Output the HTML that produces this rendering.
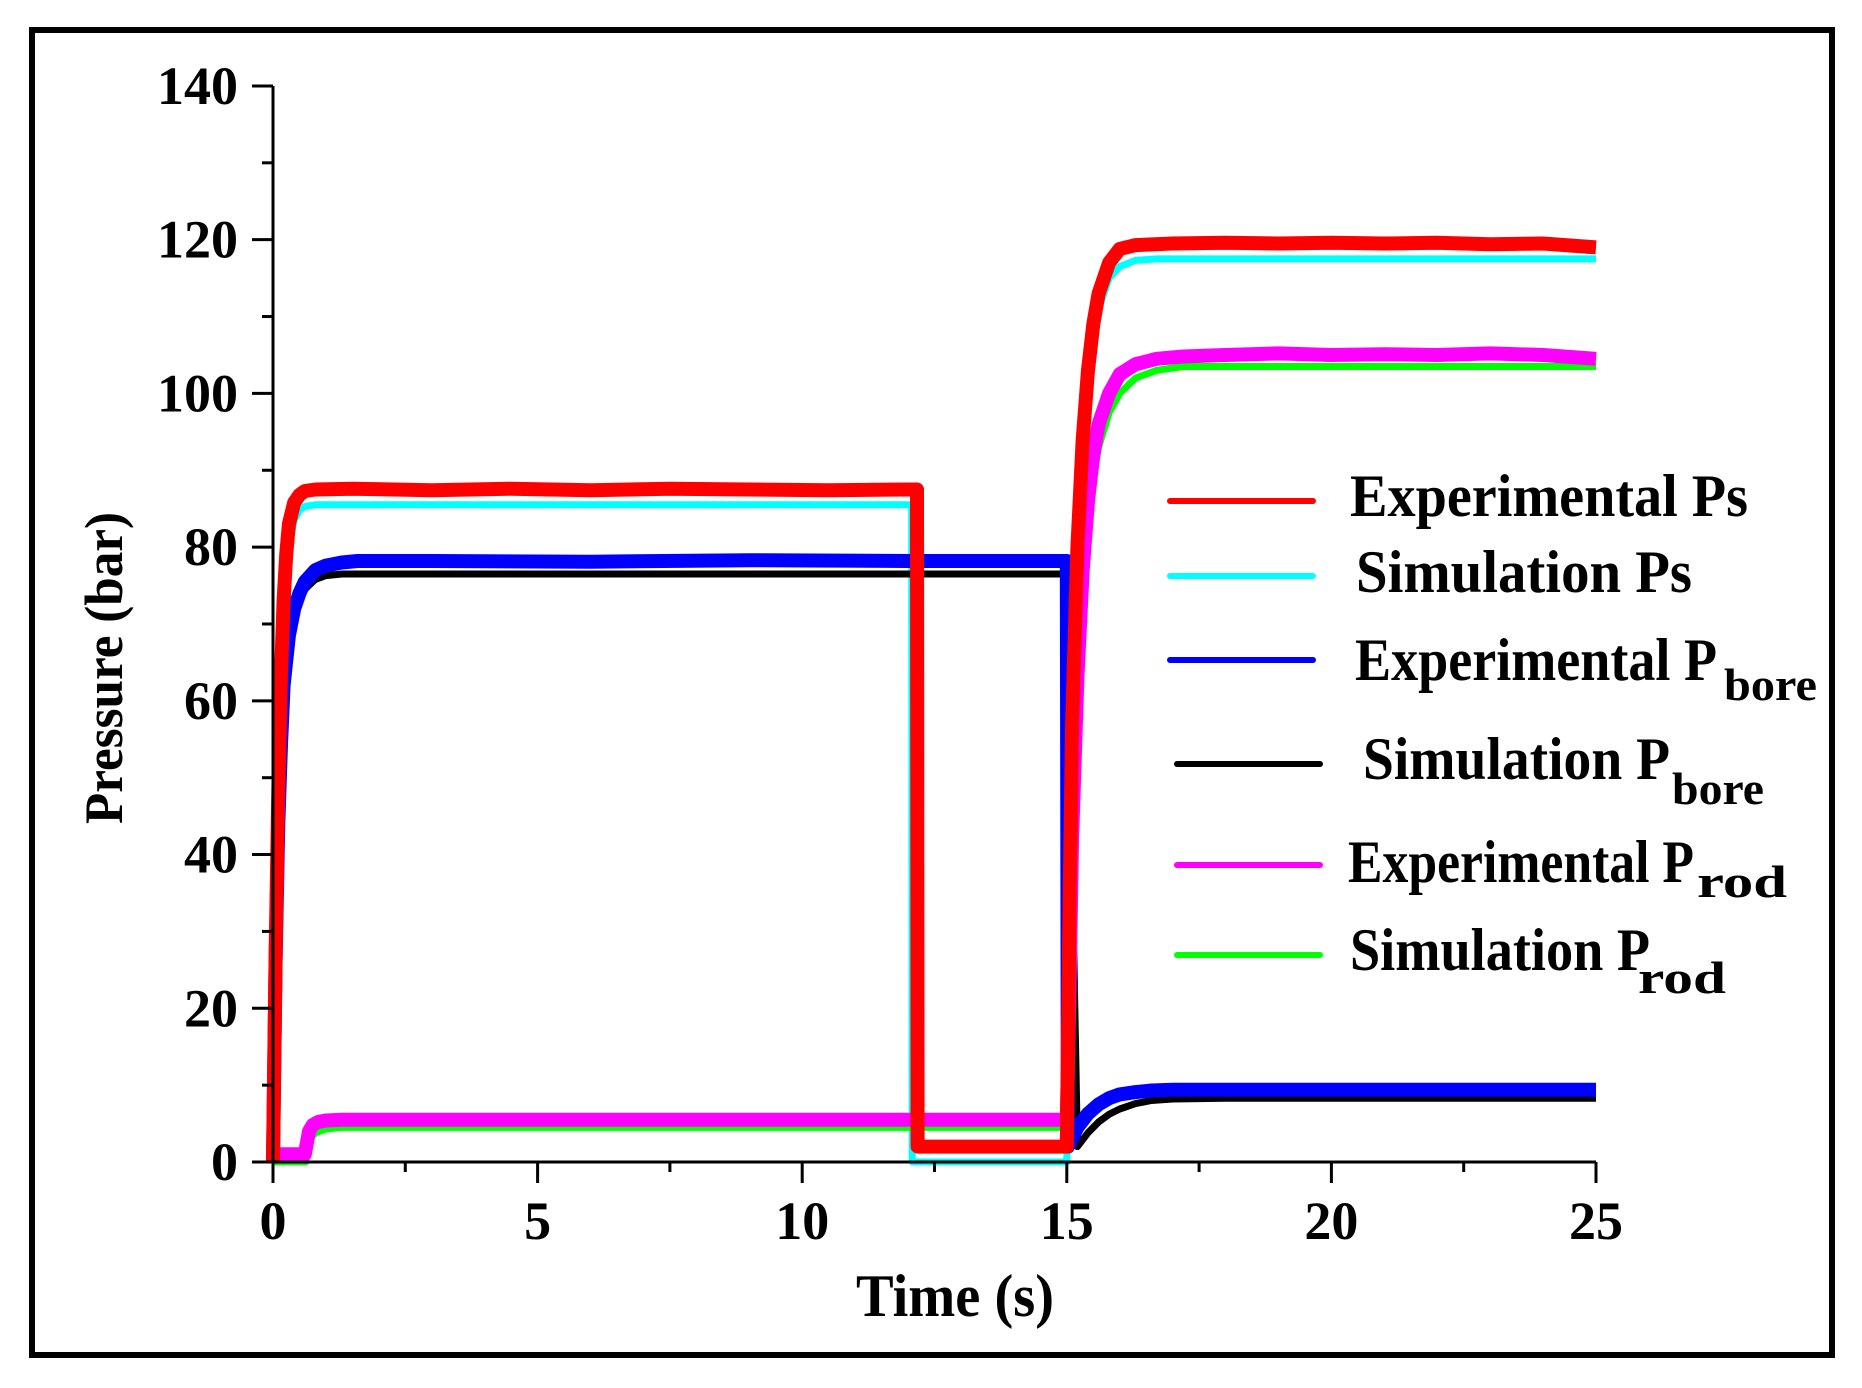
<!DOCTYPE html>
<html><head><meta charset="utf-8"><style>
html,body{margin:0;padding:0;background:#fff;}
svg{display:block;}
text{font-family:"Liberation Serif",serif;font-weight:bold;fill:#000;}
</style></head><body>
<svg id="chart" width="1862" height="1388" viewBox="0 0 1862 1388">
<rect x="32" y="30" width="1800" height="1325" fill="#fff" stroke="#000" stroke-width="6"/>
<g id="series"></g>
<g id="axes"></g>
<text x="955" y="1316" font-size="60" text-anchor="middle" textLength="198" lengthAdjust="spacingAndGlyphs">Time (s)</text>
<text transform="translate(122,668) rotate(-90)" font-size="54" text-anchor="middle" textLength="312" lengthAdjust="spacingAndGlyphs">Pressure (bar)</text>
<g>
 <g>
  <line x1="1170" y1="501" x2="1313" y2="501" stroke="#f00" stroke-width="6" stroke-linecap="round"/>
  <text x="1350" y="516" font-size="60" textLength="398" lengthAdjust="spacingAndGlyphs">Experimental Ps</text>
 </g>
 <g>
  <line x1="1170" y1="576" x2="1313" y2="576" stroke="#0ff" stroke-width="6" stroke-linecap="round"/>
  <text x="1356" y="592" font-size="60" textLength="336" lengthAdjust="spacingAndGlyphs">Simulation Ps</text>
 </g>
 <g>
  <line x1="1170" y1="660" x2="1313" y2="660" stroke="#00f" stroke-width="6" stroke-linecap="round"/>
  <text x="1355" y="680" font-size="60" textLength="362" lengthAdjust="spacingAndGlyphs">Experimental P</text>
  <text x="1724" y="700" font-size="46" textLength="93" lengthAdjust="spacingAndGlyphs">bore</text>
 </g>
 <g>
  <line x1="1177" y1="764" x2="1320" y2="764" stroke="#000" stroke-width="6" stroke-linecap="round"/>
  <text x="1363" y="779" font-size="60" textLength="307" lengthAdjust="spacingAndGlyphs">Simulation P</text>
  <text x="1672" y="804" font-size="46" textLength="92" lengthAdjust="spacingAndGlyphs">bore</text>
 </g>
 <g>
  <line x1="1177" y1="865" x2="1320" y2="865" stroke="#f0f" stroke-width="6" stroke-linecap="round"/>
  <text x="1348" y="882" font-size="60" textLength="346" lengthAdjust="spacingAndGlyphs">Experimental P</text>
  <text x="1697" y="897" font-size="46" textLength="90" lengthAdjust="spacingAndGlyphs">rod</text>
 </g>
 <g>
  <line x1="1177" y1="955" x2="1320" y2="955" stroke="#0f0" stroke-width="6" stroke-linecap="round"/>
  <text x="1350" y="970" font-size="60" textLength="300" lengthAdjust="spacingAndGlyphs">Simulation  P</text>
  <text x="1638" y="993" font-size="46" textLength="88" lengthAdjust="spacingAndGlyphs">rod</text>
 </g>
</g>
</svg>
<script>
// axis ranges and tick labels
const xTickLabels = ["0","5","10","15","20","25"];
const xTickValues = [0,5,10,15,20,25];
const yTickLabels = ["0","20","40","60","80","100","120","140"];
const yTickValues = [0,20,40,60,80,100,120,140];

// series data (time in s, pressure in bar)
const tSimPs  = [0,0.05,0.1,0.15,0.2,0.25,0.3,0.4,0.5,0.6,0.8,12.07,12.08,15.0,15.05,15.1,15.2,15.3,15.4,15.5,15.6,15.8,16.0,16.3,16.7,25];
const vSimPs  = [0,25,45,60,70,76,80,83.5,84.8,85.3,85.5,85.5,0,0,30,55,78,92,101,107,111,115,116.5,117.3,117.5,117.5];
const tExpPs  = [0,0.05,0.1,0.15,0.2,0.25,0.3,0.4,0.5,0.6,0.8,1.5,3,4.5,6,7.5,9,10.5,12.0,12.17,12.18,15.0,15.05,15.1,15.2,15.3,15.4,15.5,15.6,15.8,16.0,16.3,17,18,19,20,21,22,23,24,25];
const vExpPs  = [0,27,48,63,73,79,83,85.8,86.8,87.3,87.5,87.6,87.4,87.6,87.4,87.6,87.5,87.4,87.5,87.5,2,2,32,57,80,94,103,109,113,117,118.8,119.3,119.5,119.6,119.5,119.6,119.5,119.6,119.4,119.5,119];
const tSimBore = [0,0.05,0.1,0.15,0.2,0.3,0.4,0.5,0.6,0.8,1.0,1.3,15.0,15.2,15.4,15.6,15.8,16.0,16.3,16.6,17,18,25];
const vSimBore = [0,25,42,52,60,67,71,73,74.5,75.8,76.3,76.5,76.5,2,3.8,5.2,6.2,6.9,7.6,8.0,8.2,8.3,8.3];
const tExpBore = [0,0.05,0.1,0.15,0.2,0.3,0.4,0.5,0.6,0.8,1.0,1.3,1.6,3,6,9,12,14.9,15.0,15.02,15.2,15.4,15.6,15.8,16.0,16.3,16.6,17,18,25];
const vExpBore = [0,26,44,54,62,68.5,72,74,75.5,77,77.6,78,78.2,78.2,78.1,78.3,78.2,78.2,78.2,2,4.5,6.3,7.5,8.3,8.8,9.1,9.3,9.4,9.4,9.4];
const tSimRod = [0,0.62,0.66,0.7,0.8,1.0,1.3,15.0,15.05,15.1,15.2,15.3,15.4,15.5,15.6,15.8,16.0,16.3,16.7,17.2,18,25];
const vSimRod = [0,0,2,3,3.8,4.3,4.5,4.5,20,40,60,74,83,89,93,97.5,100,102,103,103.5,103.5,103.5];
const tExpRod = [0,0.6,0.64,0.68,0.75,0.85,1.0,1.3,15.0,15.05,15.1,15.2,15.3,15.4,15.5,15.6,15.8,16.0,16.3,16.7,17.2,18,19,20,21,22,23,24,25];
const vExpRod = [1,1,2.5,4,4.8,5.2,5.4,5.5,5.5,22,42,63,77,86,92,96,100,102.5,103.8,104.5,104.8,105,105.2,105,105.1,105,105.2,105,104.5];

const X0 = 273, XPX = 52.92, Y0 = 1162, YPX = 7.686;
function xs(t){ return X0 + t*XPX; }
function ys(v){ return Y0 - v*YPX; }
const NS = "http://www.w3.org/2000/svg";
const series = document.getElementById('series');
const axes = document.getElementById('axes');

function drawLine(ts, vs, color, w, name){
  const p = document.createElementNS(NS,'polyline');
  p.setAttribute('points', ts.map((t,i)=>xs(t).toFixed(1)+','+ys(vs[i]).toFixed(1)).join(' '));
  p.setAttribute('fill','none');
  p.setAttribute('stroke',color);
  p.setAttribute('stroke-width',w);
  p.setAttribute('stroke-linejoin','round');
  
  
  series.appendChild(p);
}
drawLine(tSimPs, vSimPs, '#00ffff', 7, 'line-simulation-ps');
drawLine(tSimBore, vSimBore, '#000000', 7, 'line-simulation-pbore');
drawLine(tSimRod, vSimRod, '#00ff00', 7, 'line-simulation-prod');
drawLine(tExpBore, vExpBore, '#0000ff', 14, 'line-experimental-pbore');
drawLine(tExpRod, vExpRod, '#ff00ff', 14, 'line-experimental-prod');
drawLine(tExpPs, vExpPs, '#ff0000', 14, 'line-experimental-ps');

function mk(tag, attrs){
  const e = document.createElementNS(NS, tag);
  for (const k in attrs) e.setAttribute(k, attrs[k]);
  return e;
}
const xl = mk('line',{x1:X0,y1:Y0,x2:xs(25),y2:Y0,stroke:'#000','stroke-width':3});


axes.appendChild(xl);
const yl = mk('line',{x1:X0,y1:Y0,x2:X0,y2:ys(140),stroke:'#000','stroke-width':3});


axes.appendChild(yl);
for (let v=0; v<=140; v+=10){
  const major = v%20===0;
  const tk = mk('line',{x1:X0-(major?21:11),y1:ys(v),x2:X0,y2:ys(v),stroke:'#000','stroke-width':3});
  
  
  axes.appendChild(tk);
}
yTickValues.forEach((v,i)=>{
  const t = mk('text',{x:238,y:ys(v)+18,'font-size':54,'text-anchor':'end'});
  t.textContent = yTickLabels[i];
  
  
  axes.appendChild(t);
});
for (let t=0; t<=25; t+=2.5){
  const major = Math.abs(t%5)<1e-9;
  const tk = mk('line',{x1:xs(t),y1:Y0,x2:xs(t),y2:Y0+(major?21:10),stroke:'#000','stroke-width':3});
  
  
  axes.appendChild(tk);
}
xTickValues.forEach((v,i)=>{
  const t = mk('text',{x:xs(v),y:1239,'font-size':54,'text-anchor':'middle'});
  t.textContent = xTickLabels[i];
  
  
  axes.appendChild(t);
});
</script>
</body></html>
